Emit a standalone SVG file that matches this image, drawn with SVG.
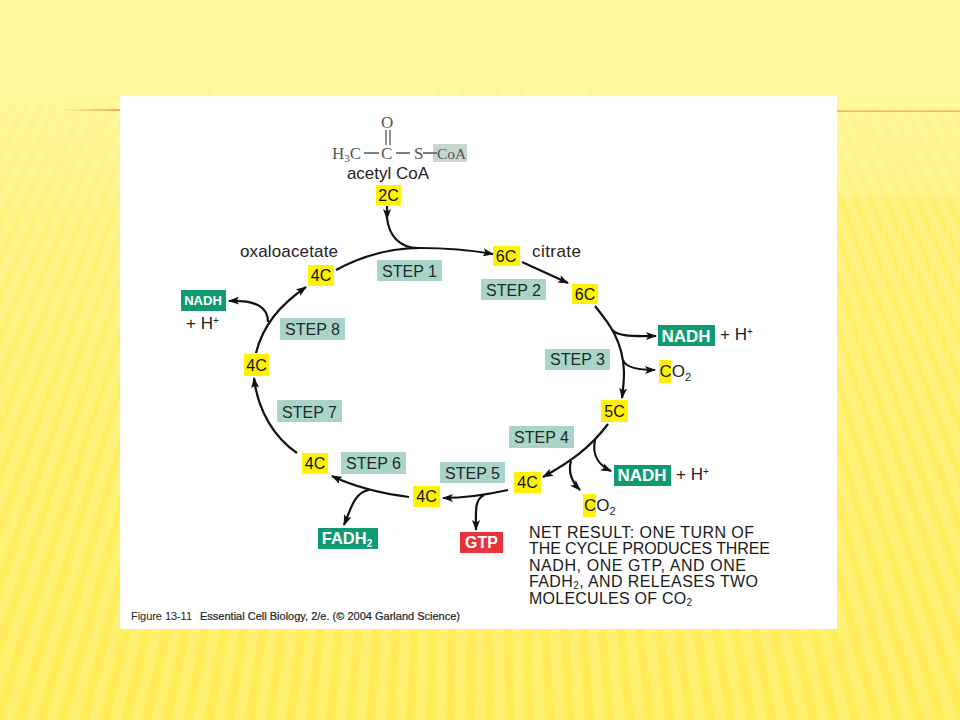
<svg xmlns="http://www.w3.org/2000/svg" width="960" height="720" viewBox="0 0 960 720">
<defs>
<linearGradient id="bg" x1="0" y1="0" x2="0" y2="1"><stop offset="0" stop-color="#fff89c"/><stop offset="0.12" stop-color="#fff796"/><stop offset="0.3" stop-color="#fff27c"/><stop offset="0.6" stop-color="#ffee62"/><stop offset="1" stop-color="#ffeb52"/></linearGradient>
<linearGradient id="right" x1="0" y1="0" x2="0" y2="1"><stop offset="0" stop-color="#ffef6c"/><stop offset="1" stop-color="#ffeb54"/></linearGradient>
<linearGradient id="top" x1="0" y1="0" x2="0" y2="1"><stop offset="0" stop-color="#fff89c"/><stop offset="0.55" stop-color="#fff89c"/><stop offset="1" stop-color="#fff796" stop-opacity="0"/></linearGradient>
<linearGradient id="rule" gradientUnits="userSpaceOnUse" x1="60" y1="0" x2="120" y2="0"><stop offset="0" stop-color="#f3b060" stop-opacity="0"/><stop offset="1" stop-color="#f3a855"/></linearGradient>
<filter id="soft" x="-5%" y="-5%" width="110%" height="110%"><feGaussianBlur stdDeviation="1.8"/></filter>
<path id="w0" d="M480 -800L474 800H486Z"/>
<g id="w1"><use href="#w0" transform="rotate(-0.75 480 -800)"/><use href="#w0"/><use href="#w0" transform="rotate(0.75 480 -800)"/></g>
<g id="w2"><use href="#w1" transform="rotate(-2.25 480 -800)"/><use href="#w1"/><use href="#w1" transform="rotate(2.25 480 -800)"/></g>
<g id="w3"><use href="#w2" transform="rotate(-6.75 480 -800)"/><use href="#w2"/><use href="#w2" transform="rotate(6.75 480 -800)"/></g>
<g id="w4"><use href="#w3" transform="rotate(-20.25 480 -800)"/><use href="#w3"/><use href="#w3" transform="rotate(20.25 480 -800)"/></g>
<marker id="ah" viewBox="0 0 11 8" refX="10" refY="4" markerWidth="11" markerHeight="8" markerUnits="userSpaceOnUse" orient="auto"><path d="M0 0L11 4L0 8L2.500 4Z" fill="#111"/></marker>
</defs>
<style>
text{font-family:"Liberation Sans",Arial,sans-serif;fill:#222}
.c{stroke:#111;stroke-width:2.200;fill:none}
.a{marker-end:url(#ah)}
.y{fill:#fff200}
.s{fill:#a9d4c7}
.st{font-size:16px;text-anchor:middle;fill:#1d2b2b}
.n{font-size:16px;text-anchor:middle;fill:#111}
.g{fill:#0f9a72}
.w{fill:#fff;font-weight:bold;text-anchor:middle}
.l{font-size:17px}
.r{font-size:16px;fill:#1a1a1a}
.f{font-family:"Liberation Serif",serif;font-size:17px;fill:#555}
</style>
<g id="background">
<rect width="960" height="720" fill="url(#bg)"/>
<rect x="836" y="197" width="124" height="523" fill="url(#right)"/>
<use href="#w4" fill="#fffbb4" fill-opacity="0.3" filter="url(#soft)"/>
<rect width="960" height="65" fill="url(#top)"/>
<rect x="60" y="109" width="60" height="2" fill="url(#rule)"/>
<rect x="836" y="110.500" width="124" height="1.200" fill="#f0a050"/>
<rect x="120" y="96" width="717" height="533" fill="#fff"/>
</g>
<g id="connectors">
<path class="c a" d="M387 206V219"/>
<path class="c" d="M387 218C389 236 400 248 418 248"/>
<path class="c a" d="M336 270C360 257 390 248 420 248C445 248 470 250 493 254"/>
<path class="c a" d="M522 262L568 283"/>
<path class="c a" d="M595 306C608 322 623 340 624 372C624 382 623 390 622 398"/>
<path class="c a" d="M612 330C620 337 632 336 656 336"/>
<path class="c a" d="M623 360C625 366 635 370 655 370"/>
<path class="c a" d="M608 424C590 448 570 462 543 477"/>
<path class="c a" d="M595 440C592 454 598 465 611 471"/>
<path class="c a" d="M571 461C568 472 572 482 580 490"/>
<path class="c a" d="M508 490C490 494 470 498 443 498"/>
<path class="c a" d="M484 495C474 500 476 512 476 530"/>
<path class="c a" d="M409 497C385 494 355 487 332 476"/>
<path class="c a" d="M369 490C355 492 351 508 344 525"/>
<path class="c a" d="M297 453C275 438 258 412 254 378"/>
<path class="c a" d="M256 353C263 325 280 305 306 287"/>
<path class="c a" d="M268 322C268 308 258 300 229 301"/>
</g>
<g id="acetyl-coa">
<rect x="433" y="144" width="34" height="18" fill="#c9d6d0"/>
<text class="f" x="332" y="159">H<tspan dy="3" font-size="11">3</tspan><tspan dy="-3">C</tspan></text>
<text class="f" x="381" y="159">C</text>
<text class="f" x="381" y="128">O</text>
<text class="f" x="414" y="159">S</text>
<text class="f" x="437" y="159" style="font-size:15.500px">CoA</text>
<path d="M364 153H379M396 153H410M423 153H437M386 130V145M390 130V145" stroke="#555" stroke-width="1.300" fill="none"/>
<text x="388" y="179" class="l" text-anchor="middle">acetyl CoA</text>
</g>
<g id="n2c"><rect class="y" x="376" y="185" width="25" height="20"/><text class="n" x="388.500" y="201">2C</text></g>
<g id="n6c-citrate"><rect class="y" x="493" y="246" width="27" height="20"/><text class="n" x="506" y="262">6C</text><text class="l" x="532" y="257" textLength="49">citrate</text></g>
<g id="n6c"><rect class="y" x="572" y="284" width="26" height="20"/><text class="n" x="585" y="300">6C</text></g>
<g id="n5c"><rect class="y" x="601" y="400" width="27" height="22"/><text class="n" x="614.500" y="417">5C</text></g>
<g id="n4c-a"><rect class="y" x="514" y="472" width="27" height="21"/><text class="n" x="527.500" y="488">4C</text></g>
<g id="n4c-b"><rect class="y" x="413" y="486" width="27" height="21"/><text class="n" x="426.500" y="502">4C</text></g>
<g id="n4c-c"><rect class="y" x="302" y="453" width="26" height="21"/><text class="n" x="315" y="469">4C</text></g>
<g id="n4c-d"><rect class="y" x="244" y="354" width="25" height="22"/><text class="n" x="256.500" y="371">4C</text></g>
<g id="n4c-oxaloacetate"><rect class="y" x="308" y="265" width="26" height="21"/><text class="n" x="321" y="281">4C</text><text class="l" x="240" y="257" textLength="98">oxaloacetate</text></g>
<g id="step1"><rect class="s" x="377" y="260" width="65" height="21"/><text class="st" x="409.500" y="277">STEP 1</text></g>
<g id="step2"><rect class="s" x="481" y="279" width="65" height="21"/><text class="st" x="513.500" y="296">STEP 2</text></g>
<g id="step3"><rect class="s" x="545" y="349" width="65" height="21"/><text class="st" x="577.500" y="365">STEP 3</text></g>
<g id="step4"><rect class="s" x="509" y="426" width="65" height="22"/><text class="st" x="541.500" y="443">STEP 4</text></g>
<g id="step5"><rect class="s" x="440" y="462" width="65" height="21"/><text class="st" x="472.500" y="479">STEP 5</text></g>
<g id="step6"><rect class="s" x="341" y="452" width="65" height="22"/><text class="st" x="373.500" y="469">STEP 6</text></g>
<g id="step7"><rect class="s" x="277" y="400" width="65" height="22"/><text class="st" x="309.500" y="418">STEP 7</text></g>
<g id="step8"><rect class="s" x="280" y="318" width="65" height="22"/><text class="st" x="312.500" y="335">STEP 8</text></g>
<g id="nadh1"><rect class="g" x="658" y="325" width="57" height="21"/><text class="w" x="686" y="341.500" font-size="17">NADH</text><text class="l" x="720" y="340">+ H<tspan dy="-5" font-size="10">+</tspan></text></g>
<g id="co2-1"><rect class="y" x="659" y="360" width="12" height="23"/><text class="l" x="659.500" y="377">CO<tspan dy="4" font-size="11">2</tspan></text></g>
<g id="nadh2"><rect class="g" x="614" y="465" width="57" height="21"/><text class="w" x="642" y="480.500" font-size="17">NADH</text><text class="l" x="676" y="480">+ H<tspan dy="-5" font-size="10">+</tspan></text></g>
<g id="co2-2"><rect class="y" x="583" y="494" width="13" height="23"/><text class="l" x="584" y="511">CO<tspan dy="4" font-size="11">2</tspan></text></g>
<g id="nadh3"><rect class="g" x="181" y="290" width="45" height="21"/><text class="w" x="203" y="305" font-size="13">NADH</text><text class="l" x="186" y="329">+ H<tspan dy="-5" font-size="10">+</tspan></text></g>
<g id="fadh2"><rect class="g" x="318" y="528" width="60" height="21"/><text class="w" x="347" y="544" font-size="16.500">FADH<tspan dy="3" font-size="10">2</tspan></text></g>
<g id="gtp"><rect x="460" y="532" width="43" height="21" fill="#e8323c"/><text class="w" x="481.500" y="548" font-size="16">GTP</text></g>
<g id="net-result">
<text class="r" x="529" y="538" textLength="225">NET RESULT: ONE TURN OF</text>
<text class="r" x="529" y="554" textLength="241">THE CYCLE PRODUCES THREE</text>
<text class="r" x="529" y="571" textLength="217">NADH, ONE GTP, AND ONE</text>
<text class="r" x="529" y="587" textLength="229">FADH<tspan dy="2" font-size="10">2</tspan><tspan dy="-2">, AND RELEASES TWO</tspan></text>
<text class="r" x="529" y="604" textLength="163">MOLECULES OF CO<tspan dy="2" font-size="10">2</tspan></text>
</g>
<g id="caption">
<text x="131" y="620" font-size="11" fill="#555" textLength="61">Figure 13-11</text>
<text x="200" y="620" font-size="11" fill="#222" stroke="#222" stroke-width="0.200" textLength="260">Essential Cell Biology, 2/e. (© 2004 Garland Science)</text>
</g>
</svg>
